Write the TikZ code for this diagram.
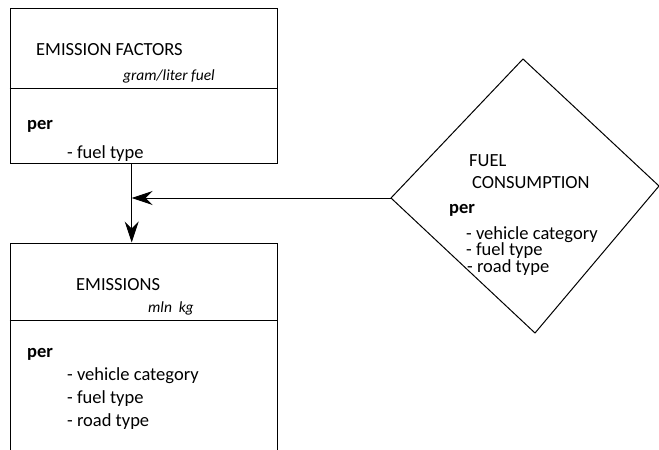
\documentclass[tikz,border=0pt]{standalone}
\usepackage{fontspec}
\setmainfont{Carlito}
\usetikzlibrary{arrows.meta}
\tikzset{
    box/.style={draw, line width=1pt, minimum width=267pt},
    txt/.style={anchor=base west, inner sep=0pt, font=\fontsize{18.5}{22}\selectfont},
    unit/.style={anchor=base west, inner sep=0pt, font=\fontsize{15.5}{18}\selectfont\itshape},
    flow/.style={line width=1pt, -{Stealth[length=21pt, width=14pt, inset=7pt]}}
}
\begin{document}
\begin{tikzpicture}[x=1pt, y=-1pt]
            \useasboundingbox (0,0) rectangle (659,450);
            \clip (0,0) rectangle (659,450);
            \node[box, minimum height=155pt] (factors) at (143.5,85.5) {};
            \node[box, minimum height=240pt] (emissions) at (143.5,363) {};
            \draw[line width=1pt] (factors.west |- 0,88) -- (factors.east |- 0,88);
            \draw[line width=1pt] (emissions.west |- 0,320) -- (emissions.east |- 0,320);
            \coordinate (fctop) at (523,59);
            \coordinate (fcright) at (659,186);
            \coordinate (fcbottom) at (535,333);
            \coordinate (fcleft) at (391,198);
            \draw[line width=1pt] (fctop) -- (fcright) -- (fcbottom) -- (fcleft) -- cycle;
            \coordinate (join) at (131.7,198);
            \node[txt] (t1) at (36,55) {EMISSION FACTORS};
            \node[unit] (t2) at (123,80) {gram/liter fuel};
            \node[txt] (t3) at (27,129) {\textbf{per}};
            \node[txt] (t4) at (67,158) {- fuel type};
            \node[txt] (e1) at (76,290) {EMISSIONS};
            \node[unit] (e2) at (148,312) {mln~~kg};
            \node[txt] (e3) at (27,357) {\textbf{per}};
            \node[txt] (e4) at (67,380) {- vehicle category};
            \node[txt] (e5) at (67,403) {- fuel type};
            \node[txt] (e6) at (67,426) {- road type};
            \node[txt] (f1) at (469,166) {FUEL};
            \node[txt] (f2) at (472,188) {CONSUMPTION};
            \node[txt] (f3) at (449,213) {\textbf{per}};
            \node[txt] (f4) at (466,239) {- vehicle category};
            \node[txt] (f5) at (466,255) {- fuel type};
            \node[txt] (f6) at (467,272) {- road type};
            \draw[flow] (factors.south -| join) -- (emissions.north -| join);
            \draw[flow] (fcleft) -- (join);
        \end{tikzpicture}
\end{document}
